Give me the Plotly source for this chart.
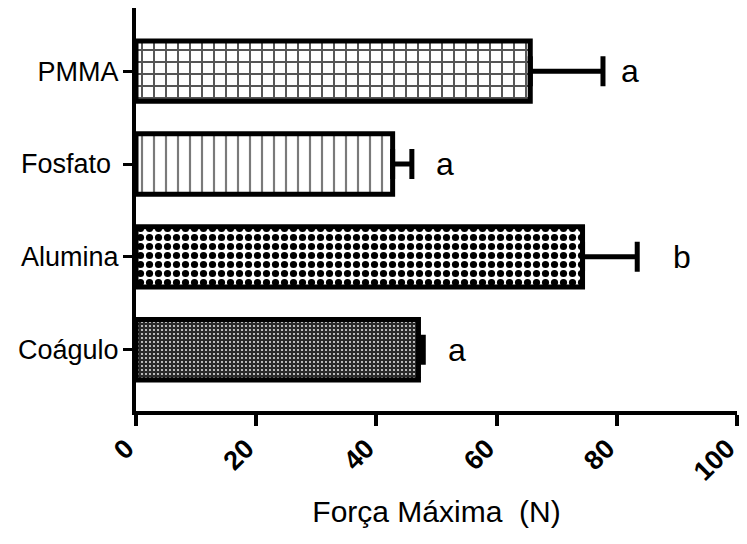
import plotly.graph_objects as go

# Maximum force per material (mean and upward SD), bottom-to-top order
materials = ["Coágulo", "Alumina", "Fosfato", "PMMA"]
tick_text = ["Coágulo", "Alumina", "Fosfato\u00a0", "PMMA"]
force_mean = [47.0, 74.3, 42.7, 65.6]
force_sd = [0.8, 9.1, 3.2, 12.1]

# Significance letters and where they sit along the force axis
letters = ["a", "b", "a", "a"]
letter_pos = [53.4, 90.8, 51.4, 82.2]

x_ticks = [0, 20, 40, 60, 80, 100]

FONT = "Liberation Sans, Arial, sans-serif"

fig = go.Figure()

fig.add_trace(go.Bar(
    y=materials,
    x=force_mean,
    orientation="h",
    width=0.65,
    marker=dict(
        color="white",
        line=dict(color="black", width=5),
        pattern=dict(
            shape=[".", ".", "|", "+"],
            size=[4, 9, 12, 12],
            solidity=[0.16, 0.5, 0.18, 0.3],
            fgcolor=["#ffffff", "#000000", "#7a7a7a", "#555555"],
            bgcolor=["#2a2a2a", "#ffffff", "#ffffff", "#ffffff"],
            fillmode="replace",
        ),
    ),
    error_x=dict(
        type="data",
        symmetric=False,
        array=force_sd,
        arrayminus=[0] * len(force_sd),
        color="black",
        thickness=5,
        width=15,
    ),
    showlegend=False,
))

for mat, lab, pos in zip(materials, letters, letter_pos):
    fig.add_annotation(
        x=pos, y=mat, text=lab, showarrow=False,
        xanchor="center", yanchor="middle",
        font=dict(family=FONT, size=32, color="black"),
    )

fig.update_layout(
    width=747,
    height=544,
    margin=dict(l=136, r=10, t=8, b=133),
    paper_bgcolor="white",
    plot_bgcolor="white",
    font=dict(family=FONT, color="black"),
    bargap=0.35,
)

fig.update_xaxes(
    range=[0, 100],
    tickvals=x_ticks,
    ticktext=[str(v) for v in x_ticks],
    tickangle=-45,
    tickfont=dict(family=FONT, size=27, weight="bold"),
    ticks="outside",
    ticklen=11,
    tickwidth=4,
    tickcolor="black",
    ticklabelstandoff=-4,
    ticklabelshift=-10,
    ticklabeloverflow="allow",
    showline=True,
    linecolor="black",
    linewidth=4,
    showgrid=False,
    zeroline=False,
    title=dict(text="Força Máxima\u00a0 (N)", font=dict(family=FONT, size=30), standoff=16),
    automargin=False,
)

fig.update_yaxes(
    categoryorder="array",
    categoryarray=materials,
    tickvals=materials,
    ticktext=tick_text,
    range=[-0.66, 3.68],
    tickfont=dict(family=FONT, size=27),
    ticks="outside",
    ticklen=9,
    tickwidth=3,
    tickcolor="black",
    ticklabelstandoff=-1,
    showline=True,
    linecolor="black",
    linewidth=4,
    showgrid=False,
    zeroline=False,
    automargin=False,
)

fig.write_html("out.html")
